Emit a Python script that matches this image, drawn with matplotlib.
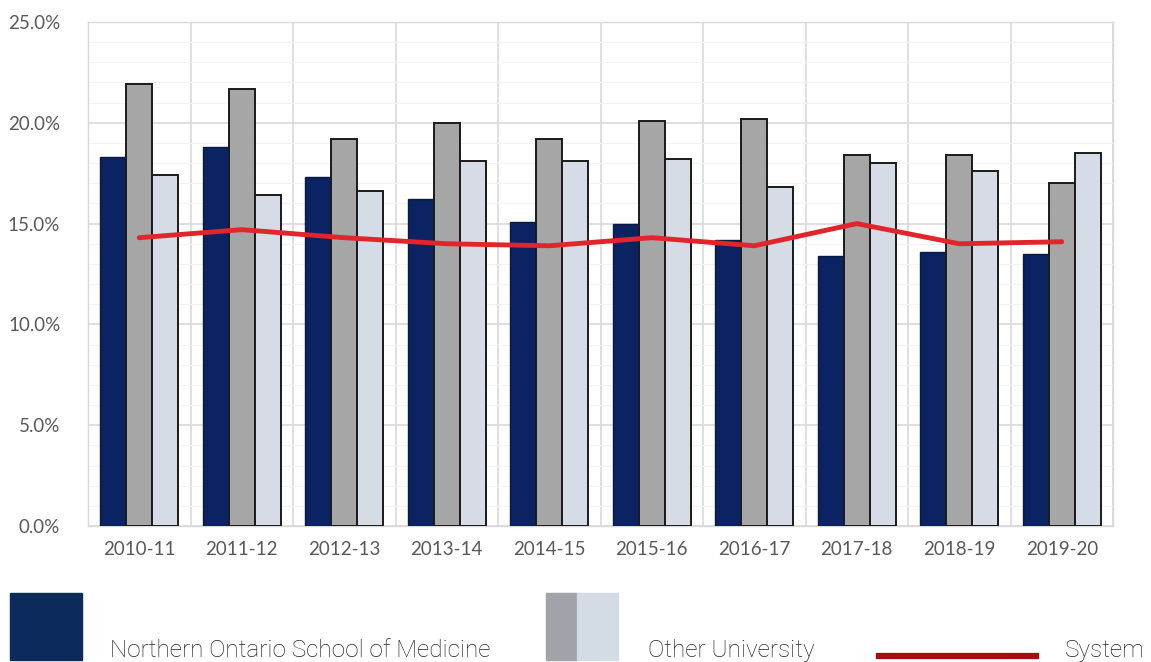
import matplotlib.pyplot as plt
import numpy as np
from matplotlib.patches import Rectangle
from matplotlib.lines import Line2D
from matplotlib.ticker import FuncFormatter, MultipleLocator

# data
years = ['2010-11', '2011-12', '2012-13', '2013-14', '2014-15',
         '2015-16', '2016-17', '2017-18', '2018-19', '2019-20']
nosm = [18.3, 18.8, 17.3, 16.2, 15.1, 15.0, 14.2, 13.4, 13.6, 13.5]
other_a = [21.9, 21.7, 19.2, 20.0, 19.2, 20.1, 20.2, 18.4, 18.4, 17.0]
other_b = [17.4, 16.4, 16.6, 18.1, 18.1, 18.2, 16.8, 18.0, 17.6, 18.5]
system = [14.3, 14.7, 14.3, 14.0, 13.9, 14.3, 13.9, 15.0, 14.0, 14.1]

tick_font = 'Lato'
legend_font = 'Roboto'

fig = plt.figure(figsize=(11.51, 6.62), dpi=100)
ax = fig.add_axes([88 / 1151, 1 - 526 / 662, (1113 - 88) / 1151, (526 - 22) / 662])

x = np.arange(len(years))
w = 0.254
ax.bar(x - w, nosm, w, color='#0b2263', edgecolor='#0a1a40', linewidth=1.0, zorder=3)
ax.bar(x, other_a, w, color='#a6a6a6', edgecolor='#1a1a1a', linewidth=1.4, zorder=3)
ax.bar(x + w, other_b, w, color='#d6dce5', edgecolor='#1a1a1a', linewidth=1.4, zorder=3)
ax.plot(x, system, color='#e0262a', linewidth=3.5, zorder=4, solid_capstyle='round')

ax.set_xlim(-0.5, len(years) - 0.5)
ax.set_ylim(0, 25)
ax.yaxis.set_major_locator(MultipleLocator(5))
ax.yaxis.set_minor_locator(MultipleLocator(1))
ax.yaxis.set_major_formatter(FuncFormatter(lambda v, p: f'{v:.1f}%'))
ax.set_xticks(x)
ax.set_xticklabels(years)
ax.set_xticks(np.arange(len(years) + 1) - 0.5, minor=True)

ax.grid(which='major', axis='y', color='#d9d9d9', linewidth=1.2, zorder=0)
ax.grid(which='minor', axis='y', color='#f3f3f3', linewidth=0.8, zorder=0)
ax.grid(which='minor', axis='x', color='#d9d9d9', linewidth=1.2, zorder=0)
ax.tick_params(which='both', length=0)
ax.tick_params(axis='y', pad=20, labelsize=13.5, labelcolor='#595959')
ax.tick_params(axis='x', pad=11, labelsize=13.5, labelcolor='#595959')
for lbl in ax.get_xticklabels() + ax.get_yticklabels():
    lbl.set_fontfamily(tick_font)
for s in ax.spines.values():
    s.set_color('#d9d9d9')
    s.set_linewidth(1.0)

# custom legend along the bottom
def fx(px):
    return px / 1151

def fy(py):
    return 1 - py / 662

fig.patches.append(Rectangle((fx(10), fy(660)), fx(72), 67 / 662, transform=fig.transFigure,
                             color='#0c2a5b', zorder=5))
fig.patches.append(Rectangle((fx(546), fy(660)), fx(31), 67 / 662, transform=fig.transFigure,
                             color='#a0a3a8', zorder=5))
fig.patches.append(Rectangle((fx(577), fy(660)), fx(41), 67 / 662, transform=fig.transFigure,
                             color='#d3dbe5', zorder=5))
fig.lines.append(Line2D([fx(879), fx(1036)], [fy(656), fy(656)], transform=fig.transFigure,
                        color='#a50e0e', linewidth=4.5))

lab = dict(fontsize=17.5, color='#222222', family=legend_font, fontweight='light', va='baseline')
fig.text(fx(110), fy(657), 'Northern Ontario School of Medicine', ha='left', **lab)
fig.text(fx(648), fy(657), 'Other University', ha='left', **lab)
fig.text(fx(1145), fy(657), 'System', ha='right', **lab)

fig.savefig('out.png', dpi=100)
